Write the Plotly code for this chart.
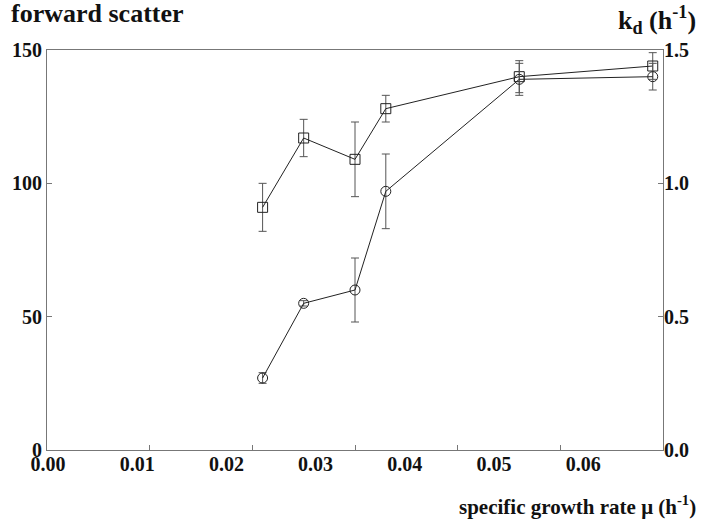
import plotly.graph_objects as go

# growth rate (h^-1)
mu = [0.021, 0.025, 0.030, 0.033, 0.046, 0.059]
# forward scatter (left axis)
fsc = [91, 117, 109, 128, 140, 144]
fsc_err = [9, 7, 14, 5, 6, 5]
# death rate kd (right axis)
kd = [0.27, 0.55, 0.60, 0.97, 1.39, 1.40]
kd_err = [0.02, 0.01, 0.12, 0.14, 0.06, 0.05]

x_ticks = [0.00, 0.01, 0.02, 0.03, 0.04, 0.05, 0.06]
x_ticklabels = ["0.00", "0.01", "0.02", "0.03", "0.04", "0.05", "0.06"]
yl_ticks = [0, 50, 100, 150]
yr_ticks = [0.0, 0.5, 1.0, 1.5]
yr_ticklabels = ["0.0", "0.5", "1.0", "1.5"]

FONT = "Liberation Serif, Times New Roman, DejaVu Serif, serif"
INK = "#222"
FRAME = "#777"

fig = go.Figure()
fig.add_trace(go.Scatter(
    x=mu, y=fsc, mode="lines+markers",
    line=dict(color=INK, width=1),
    marker=dict(symbol="square-open", size=10, color=INK, line=dict(width=1)),
    error_y=dict(type="data", array=fsc_err, color="#555", thickness=1, width=4),
    xaxis="x", yaxis="y", showlegend=False))
fig.add_trace(go.Scatter(
    x=mu, y=kd, mode="lines+markers",
    line=dict(color=INK, width=1),
    marker=dict(symbol="circle-open", size=10, color=INK, line=dict(width=1)),
    error_y=dict(type="data", array=kd_err, color="#555", thickness=1, width=4),
    xaxis="x", yaxis="y2", showlegend=False))
# invisible trace to carry the printed x tick label axis
fig.add_trace(go.Scatter(x=[x_ticks[0], x_ticks[-1]], y=[0, 0], mode="markers",
                         marker=dict(opacity=0), xaxis="x2", yaxis="y",
                         showlegend=False, hoverinfo="skip"))

tickfont = dict(family=FONT, size=20, color="#111", weight="bold")
fig.update_layout(
    width=703, height=525,
    margin=dict(l=45, r=40, t=50, b=75),
    paper_bgcolor="white", plot_bgcolor="white",
    font=dict(family=FONT),
    xaxis=dict(range=[0, 0.06], tickvals=x_ticks, showticklabels=False,
               showline=True, linecolor=FRAME, linewidth=1, mirror=True,
               ticks="inside", ticklen=5, tickcolor=FRAME,
               showgrid=False, zeroline=False),
    xaxis2=dict(range=[-0.00011, 0.06894], overlaying="x", side="bottom",
                tickvals=x_ticks, ticktext=x_ticklabels, tickfont=tickfont,
                showline=False, showgrid=False, zeroline=False, ticks=""),
    yaxis=dict(range=[0, 150], tickvals=yl_ticks, tickfont=tickfont,
               showline=True, linecolor=FRAME, linewidth=1, mirror=True,
               ticks="inside", ticklen=5, tickcolor=FRAME,
               showgrid=False, zeroline=False),
    yaxis2=dict(range=[0, 1.5], tickvals=yr_ticks, ticktext=yr_ticklabels,
                tickfont=tickfont, overlaying="y", side="right",
                showline=False, ticks="inside", ticklen=5, tickcolor=FRAME,
                showgrid=False, zeroline=False),
    annotations=[
        dict(text="forward scatter", xref="paper", yref="paper",
             x=-38/618, y=1.09, xanchor="left", yanchor="middle",
             showarrow=False,
             font=dict(family=FONT, size=26, color="#111", weight="bold")),
        dict(text="k<sub>d</sub> (h<sup>-1</sup>)", xref="paper", yref="paper",
             x=653/618, y=1.075, xanchor="right", yanchor="middle",
             showarrow=False,
             font=dict(family=FONT, size=26, color="#111", weight="bold")),
        dict(text="specific growth rate μ (h<sup>-1</sup>)", xref="paper", yref="paper",
             x=653/618, y=-0.1375, xanchor="right", yanchor="middle",
             showarrow=False,
             font=dict(family=FONT, size=21, color="#111", weight="bold")),
    ],
)

fig.write_html("out.html")
